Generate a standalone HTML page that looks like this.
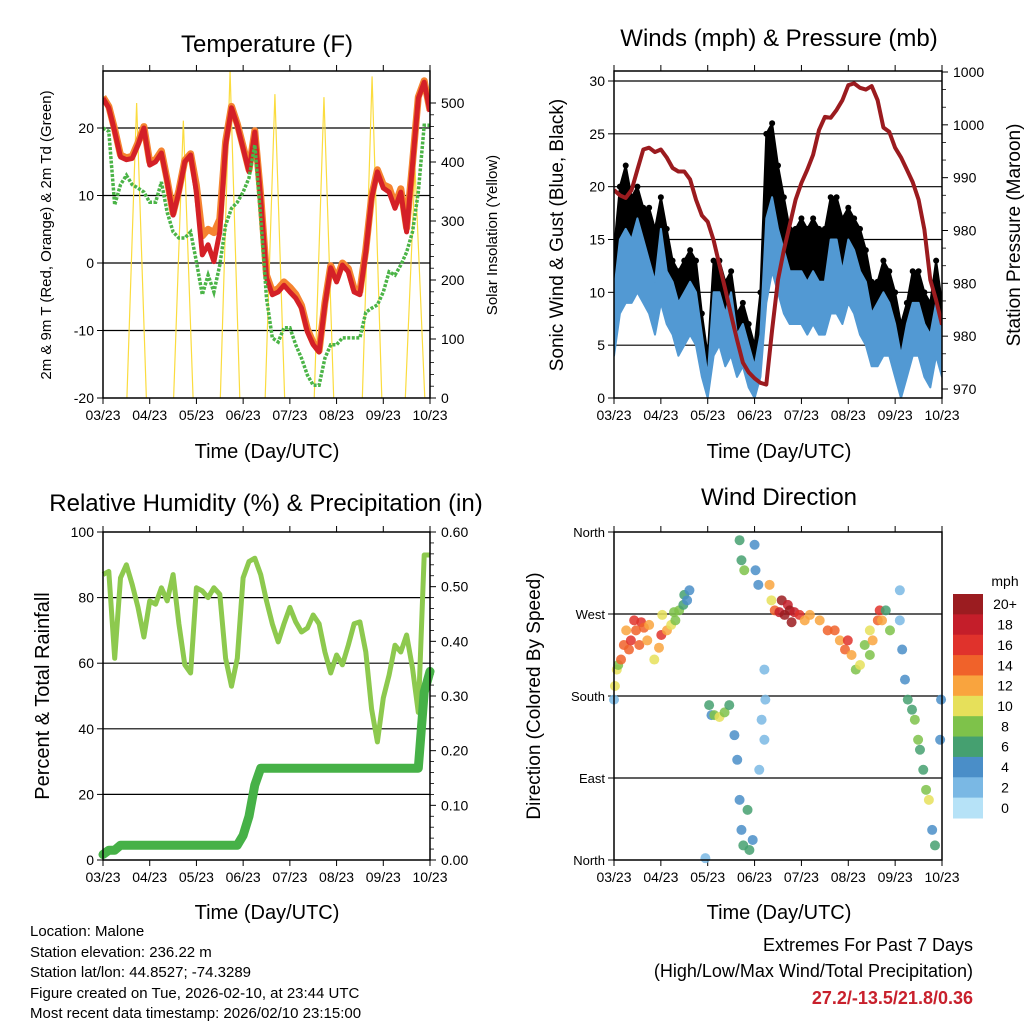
<!DOCTYPE html>
<html><head><meta charset="utf-8"><style>
html,body{margin:0;padding:0;background:#fff;}
svg{display:block;font-family:"Liberation Sans",Arial,sans-serif;}
</style></head><body>
<svg id="c" width="1024" height="1024" viewBox="0 0 1024 1024" xmlns="http://www.w3.org/2000/svg">
<text x="267" y="52" font-size="24" text-anchor="middle">Temperature (F)</text>
<text x="779" y="46" font-size="24" text-anchor="middle">Winds (mph) &amp; Pressure (mb)</text>
<text x="266" y="511" font-size="24" text-anchor="middle">Relative Humidity (%) &amp; Precipitation (in)</text>
<text x="779" y="505" font-size="24" text-anchor="middle">Wind Direction</text>
<text x="267" y="458" font-size="20" text-anchor="middle">Time (Day/UTC)</text>
<text x="779" y="458" font-size="20" text-anchor="middle">Time (Day/UTC)</text>
<text x="267" y="919" font-size="20" text-anchor="middle">Time (Day/UTC)</text>
<text x="779" y="919" font-size="20" text-anchor="middle">Time (Day/UTC)</text>
<text transform="translate(51,235) rotate(-90)" font-size="15" text-anchor="middle">2m &amp; 9m T (Red, Orange) &amp; 2m Td (Green)</text>
<text transform="translate(497,235) rotate(-90)" font-size="15" text-anchor="middle">Solar Insolation (Yellow)</text>
<text transform="translate(563,235) rotate(-90)" font-size="19" text-anchor="middle">Sonic Wind &amp; Gust (Blue, Black)</text>
<text transform="translate(1020,235) rotate(-90)" font-size="19" text-anchor="middle">Station Pressure (Maroon)</text>
<text transform="translate(49,696) rotate(-90)" font-size="20" text-anchor="middle">Percent &amp; Total Rainfall</text>
<text transform="translate(540,696) rotate(-90)" font-size="19" text-anchor="middle">Direction (Colored By Speed)</text>
<g font-size="15">
<text x="30" y="936">Location: Malone</text>
<text x="30" y="957">Station elevation: 236.22 m</text>
<text x="30" y="977">Station lat/lon: 44.8527; -74.3289</text>
<text x="30" y="998">Figure created on Tue, 2026-02-10, at 23:44 UTC</text>
<text x="30" y="1018">Most recent data timestamp: 2026/02/10 23:15:00</text>
</g>
<g font-size="18" text-anchor="end">
<text x="973" y="951">Extremes For Past 7 Days</text>
<text x="973" y="977">(High/Low/Max Wind/Total Precipitation)</text>
<text x="973" y="1004" fill="#c8202c" font-weight="bold">27.2/-13.5/21.8/0.36</text>
</g>
<g id="plots"></g>
</svg>
<script>
const xLabels = ['03/23','04/23','05/23','06/23','07/23','08/23','09/23','10/23'];
const tempRed = [24.4,23,19.5,15.7,15.3,15.5,17.5,20,14.5,15,16.3,12,7.1,10.5,15,16,10.5,1.2,2.7,0.2,4.6,17.5,23,20.4,17,13.5,19.4,9.6,-2.2,-4.7,-4.3,-3.3,-4.3,-5.2,-6.7,-10.2,-12.1,-13.2,-6.2,-0.7,-2.8,-0.3,-1.3,-4.3,-4.7,1.6,9.6,13.5,11.1,10.5,8.1,10.5,4.6,14.5,24.4,26.8,22.4];
const tempOrange = [24.6,23.2,19.8,16,15.6,15.8,17.8,20.2,15,15.3,16.6,12.3,7.4,10.8,15.2,16.2,11.5,4,5,4.5,6.5,18,23.2,20.6,17.3,13.8,19.6,10,-1.8,-4.2,-3.8,-2.8,-3.6,-4.6,-6.3,-9.8,-11.8,-13,-5.9,-0.4,-2.4,0,-0.8,-3.8,-4.2,2,9.9,13.8,11.6,11.2,8.6,11,5.2,14.8,24.6,27,22.6];
const dewGreen = [20,19.5,8.6,11.6,13,11.6,11.1,10.5,9,9,12,7.5,4.6,3.7,3.7,4.6,0.2,-4.7,-1.8,-4.3,-0.3,5.6,8.1,9,10.5,12.6,17.5,6.7,-5.2,-11.1,-11.7,-9.6,-9.6,-12.1,-14.1,-16.6,-18.1,-18.1,-14.1,-12.1,-12.1,-11.1,-11.1,-11.1,-11.1,-7.3,-6.7,-6.2,-4.3,-1.3,-1.8,-0.3,1.6,4.6,10.5,20.4,20.4];
const solarNoonDay = [0.72,1.72,2.72,3.68,4.73,5.76,6.68];
const solarPeak = [500,470,555,515,510,545,390];
const windHi = [10,15,16,15,17,15,13,11,16,12,11,9,10,11,10,6,2,10,10,8,10,6,7,5,3,6,17,19,16,14,12,12,12,11,12,11,11,15,15,12,15,14,12,11,8,9,10,9,7,4,7,9,9,7,6,9,6];
const windLo = [4,8,9,9,10,9,8,6,9,7,6,4,5,6,5,2,0,4,5,3,4,2,3,1,0,2,9,12,10,8,7,7,7,6,7,6,6,8,8,7,9,8,6,5,3,3,4,4,2,0,2,4,4,2,1,4,2];
const gust = [14,20,22,19,20,18,18,16,19,16,13,12,13,14,13,8,4,13,13,11,12,8,9,7,5,10,25,26,22,19,16,16,17,16,17,16,16,19,19,17,18,17,16,14,11,11,13,12,10,7,9,12,12,10,9,13,9];
const pressure = [992.6,992,991.7,992.6,994.9,997.2,997.4,996.9,997.2,996.3,995.1,994.7,994.7,993.8,991.5,989.7,989,986.9,984.1,981.3,978.4,975.6,973,971.9,971.2,970.7,970.5,976.7,982.4,985.8,988.6,991.5,993.4,994.9,996.6,999.4,1000.9,1000.8,1001.7,1002.8,1004.5,1004.7,1004.2,1004,1004.4,1002.8,999.7,999.2,997.4,996.3,994.9,993.5,991.5,988.1,982.4,980.1,977.3];
const pTicks = [970,976,982,988,994,1000,1006];
const pTickLabels = ['970','980','980','980','990','1000','1000'];
const rh = [87,88,61.5,86,90,84,77,68,79,78,83,79,87,72,59.5,57,83,82,80,83,81,61.5,53,61.5,86,91,92,87,79,72,66.5,72,77,72.6,69.5,70.7,74.7,72,63.4,57,62.5,59.5,65.5,72,72.6,63.4,46,36,49.4,56.4,65.5,63.4,68.6,58.5,45,93,93];
const precip = [0.01,0.018,0.018,0.027,0.027,0.027,0.027,0.027,0.027,0.027,0.027,0.027,0.027,0.027,0.027,0.027,0.027,0.027,0.027,0.027,0.027,0.027,0.027,0.027,0.045,0.08,0.137,0.168,0.168,0.168,0.168,0.168,0.168,0.168,0.168,0.168,0.168,0.168,0.168,0.168,0.168,0.168,0.168,0.168,0.168,0.168,0.168,0.168,0.168,0.168,0.168,0.168,0.168,0.168,0.168,0.307,0.345];
const wdDay = [0,0.02,0.06,0.09,0.15,0.21,0.26,0.32,0.36,0.43,0.47,0.54,0.58,0.64,0.71,0.75,0.86,0.96,1.01,1.03,1.13,1.22,1.28,1.31,1.39,1.48,1.5,1.56,1.61,1.95,2.03,2.08,2.14,2.25,2.36,2.46,2.57,2.63,2.68,2.72,2.78,3.0,3.02,3.08,2.68,2.72,2.76,2.85,2.89,2.96,3.21,3.23,3.15,3.21,3.1,3.32,3.36,3.43,3.53,3.58,3.64,3.71,3.75,3.79,3.85,3.96,4.07,4.18,4.39,4.56,4.71,4.82,4.93,4.99,5.07,5.16,5.25,5.35,5.46,5.46,5.52,5.63,5.67,5.72,5.8,5.89,6.1,6.1,6.15,6.21,6.27,6.36,6.42,6.49,6.53,6.6,6.66,6.72,6.79,6.85,6.96,6.98];
const wdDeg = [176,191,209,214,220,236,252,231,241,263,252,236,261,255,241,258,220,233,247,269,252,258,272,263,274,280,291,285,296,2,170,159,159,157,162,170,137,110,351,329,318,346,318,302,66,33,16,55,11,22,209,176,154,132,99,302,285,274,272,285,269,280,274,261,272,269,263,269,263,252,252,241,231,241,225,209,214,236,225,252,241,263,274,263,274,252,296,263,231,198,176,165,154,132,121,99,77,66,33,16,132,176];
const wdSpd = [2,9,10,8,14,14,12,14,16,16,14,14,16,14,12,12,10,12,16,10,12,10,8,8,8,6,6,4,4,2,6,4,8,10,8,6,4,4,6,6,8,4,4,4,4,4,6,6,6,4,2,2,2,2,2,12,10,14,18,20,20,18,20,20,18,16,12,12,12,14,14,12,14,16,12,8,10,8,8,10,12,14,16,12,6,8,2,2,4,4,6,6,8,8,6,6,8,10,4,6,4,4];
const spdLabels = ['0','2','4','6','8','10','12','14','16','18','20+'];
const spdColors = ['#b6e2f7','#7ab8e4','#4a8ec8','#45a070','#7ec24a','#e6e05a','#f9a43e','#f0622a','#e0322c','#c41e2a','#9b1c20'];

const NS='http://www.w3.org/2000/svg';
const root=document.getElementById('plots');
function mk(tag,attrs,parent){const e=document.createElementNS(NS,tag);for(const k in attrs)e.setAttribute(k,attrs[k]);(parent||root).appendChild(e);return e;}
function lin(d0,d1,r0,r1){return v=>r0+(v-d0)*(r1-r0)/(d1-d0);}
const T = i=>i*7/56;

function frame(b,name){
  const g=mk('g',{});
  
  
  const xs=lin(0,7,b.x0,b.x1);
  xLabels.forEach((l,i)=>{
    const x=xs(i);
    mk('line',{x1:x,x2:x,y1:b.y1,y2:b.y1+6,stroke:'#000','stroke-width':1},g);
    mk('line',{x1:x,x2:x,y1:b.y0,y2:b.y0-6,stroke:'#000','stroke-width':1},g);
    const t=mk('text',{x:x,y:b.y1+22,'font-size':14,'text-anchor':'middle'},g);
    t.textContent=l;
    
    
  });
  return {g,xs};
}
function box(b,g){mk('rect',{x:b.x0,y:b.y0,width:b.x1-b.x0,height:b.y1-b.y0,fill:'none',stroke:'#000','stroke-width':1.5},g);}
function hgrid(b,y,g){mk('line',{x1:b.x0,x2:b.x1,y1:y,y2:y,stroke:'#000','stroke-width':1.2},g);}
function minor(x,y0,y1,n,g){for(let k=1;k<n;k++){const y=y0+(y1-y0)*k/n;mk('line',{x1:x,x2:x+4,y1:y,y2:y,stroke:'#000','stroke-width':0.8},g);}}
function ylab(x,y,txt,anchor,g,size){const t=mk('text',{x:x,y:y+5,'font-size':size||14,'text-anchor':anchor},g);t.textContent=txt;}
function ptsStr(arr,xf,yf){return arr.map((v,i)=>xf(T(i)).toFixed(1)+','+yf(v).toFixed(1)).join(' ');}

(function(){
  const b={x0:103,x1:430,y0:71,y1:398};
  const {g,xs}=frame(b,'temperature');
  const ys=lin(-20,20,398,128), ysol=lin(0,500,398,103);
  [-20,-10,0,10,20].forEach(v=>{const y=ys(v);if(v>-20)hgrid(b,y,g);mk('line',{x1:b.x0-6,x2:b.x0,y1:y,y2:y,stroke:'#000'},g);ylab(b.x0-9,y,String(v),'end',g);});
  [0,100,200,300,400,500].forEach(v=>{const y=ysol(v);mk('line',{x1:b.x1,x2:b.x1+6,y1:y,y2:y,stroke:'#000'},g);ylab(b.x1+11,y,String(v),'start',g);if(v<500)minor(b.x1,y,ysol(v+100),5,g);});
  const cp=mk('clipPath',{id:'cp1'},g);mk('rect',{x:b.x0,y:b.y0,width:b.x1-b.x0,height:b.y1-b.y0},cp);
  const pg=mk('g',{'clip-path':'url(#cp1)'},g);
  solarNoonDay.forEach((d,i)=>{
    const p=mk('polyline',{points:xs(d-5/24)+','+ysol(0)+' '+xs(d)+','+ysol(solarPeak[i])+' '+xs(d+5/24)+','+ysol(0),fill:'none',stroke:'#fbdc3e','stroke-width':1.2},pg);
    
    
  });
  const o=mk('polyline',{points:ptsStr(tempOrange,xs,ys),fill:'none',stroke:'#f58430','stroke-width':7,'stroke-linejoin':'round'},pg);
  
  
  const r=mk('polyline',{points:ptsStr(tempRed,xs,ys),fill:'none',stroke:'#d42027','stroke-width':5,'stroke-linejoin':'round'},pg);
  
  
  const gr=mk('polyline',{points:ptsStr(dewGreen,xs,ys),fill:'none',stroke:'#4bb447','stroke-width':3.5,'stroke-dasharray':'3 1.5'},pg);
  
  
  box(b,g);
})();

(function(){
  const b={x0:614,x1:942,y0:71,y1:398};
  const {g,xs}=frame(b,'winds');
  const ys=lin(0,30,398,81), yp=lin(970,1006,389,72);
  [0,5,10,15,20,25,30].forEach(v=>{const y=ys(v);if(v>0)hgrid(b,y,g);mk('line',{x1:b.x0-6,x2:b.x0,y1:y,y2:y,stroke:'#000'},g);ylab(b.x0-9,y,String(v),'end',g);});
  pTicks.forEach((v,i)=>{const y=yp(v);mk('line',{x1:b.x1,x2:b.x1+6,y1:y,y2:y,stroke:'#000'},g);ylab(b.x1+11,y,pTickLabels[i],'start',g);if(i<pTicks.length-1)minor(b.x1,y,yp(pTicks[i+1]),3,g);});
  const cp=mk('clipPath',{id:'cp2'},g);mk('rect',{x:b.x0,y:b.y0,width:b.x1-b.x0,height:b.y1-b.y0},cp);
  const pg=mk('g',{'clip-path':'url(#cp2)'},g);
  const band=(hi,lo,col,name)=>{
    const up=hi.map((v,i)=>xs(T(i)).toFixed(1)+','+ys(v).toFixed(1));
    const dn=lo.map((v,i)=>xs(T(i)).toFixed(1)+','+ys(v).toFixed(1)).reverse();
    const p=mk('polygon',{points:up.concat(dn).join(' '),fill:col,stroke:col,'stroke-width':2,'stroke-linejoin':'round'},pg);
    
    
  };
  band(gust,windHi,'#000','gust-band');
  gust.forEach((v,i)=>{
    const c=mk('circle',{cx:xs(T(i)),cy:ys(v),r:3,fill:'#000'},pg);
    
    
  });
  band(windHi,windLo,'#5299d3','wind-speed-band');
  const pl=mk('polyline',{points:ptsStr(pressure,xs,yp),fill:'none',stroke:'#9b1b1f','stroke-width':4,'stroke-linejoin':'round'},pg);
  
  
  box(b,g);
})();

(function(){
  const b={x0:103,x1:430,y0:532,y1:860};
  const {g,xs}=frame(b,'humidity');
  const ys=lin(0,100,860,532), yp=lin(0,0.6,860,532);
  [0,20,40,60,80,100].forEach(v=>{const y=ys(v);if(v>0&&v<100)hgrid(b,y,g);mk('line',{x1:b.x0-6,x2:b.x0,y1:y,y2:y,stroke:'#000'},g);ylab(b.x0-9,y,String(v),'end',g);});
  [0,0.1,0.2,0.3,0.4,0.5,0.6].forEach(v=>{const y=yp(v);mk('line',{x1:b.x1,x2:b.x1+6,y1:y,y2:y,stroke:'#000'},g);ylab(b.x1+11,y,v.toFixed(2),'start',g);if(v<0.55)minor(b.x1,y,yp(v+0.1),5,g);});
  const cp=mk('clipPath',{id:'cp3'},g);mk('rect',{x:b.x0-5,y:b.y0,width:b.x1-b.x0+10,height:b.y1-b.y0+5},cp);
  const pg=mk('g',{'clip-path':'url(#cp3)'},g);
  const l=mk('polyline',{points:ptsStr(rh,xs,ys),fill:'none',stroke:'#8dc94e','stroke-width':5,'stroke-linejoin':'round'},pg);
  
  
  const p=mk('polyline',{points:ptsStr(precip,xs,yp),fill:'none',stroke:'#46b147','stroke-width':9,'stroke-linejoin':'round','stroke-linecap':'round'},pg);
  
  
  box(b,g);
})();

(function(){
  const b={x0:614,x1:942,y0:532,y1:860};
  const {g,xs}=frame(b,'wind-direction');
  const ys=lin(0,360,860,532);
  const dirs=['North','East','South','West','North'];
  dirs.forEach((d,i)=>{const y=ys(i*90);if(i>0&&i<4)hgrid(b,y,g);mk('line',{x1:b.x0-6,x2:b.x0,y1:y,y2:y,stroke:'#000'},g);ylab(b.x0-9,y,d,'end',g,13);});
  wdDay.forEach((d,i)=>{
    const ci=Math.min(10,Math.round(wdSpd[i]/2));
    const c=mk('circle',{cx:xs(d),cy:ys(wdDeg[i]),r:5,fill:spdColors[ci],'fill-opacity':0.85},g);
    
    
  });
  box(b,g);
  const lg=mk('g',{});
  
  
  const h=224/11;
  const mt=mk('text',{x:1005,y:586,'font-size':14,'text-anchor':'middle'},lg);mt.textContent='mph';
  for(let k=10;k>=0;k--){
    const y=594+(10-k)*h;
    mk('rect',{x:953,y:y,width:30,height:h+0.5,fill:spdColors[k]},lg);
    const t=mk('text',{x:1005,y:y+h/2+5,'font-size':14,'text-anchor':'middle'},lg);
    t.textContent=spdLabels[k];
  }
})();
</script>
</body></html>
